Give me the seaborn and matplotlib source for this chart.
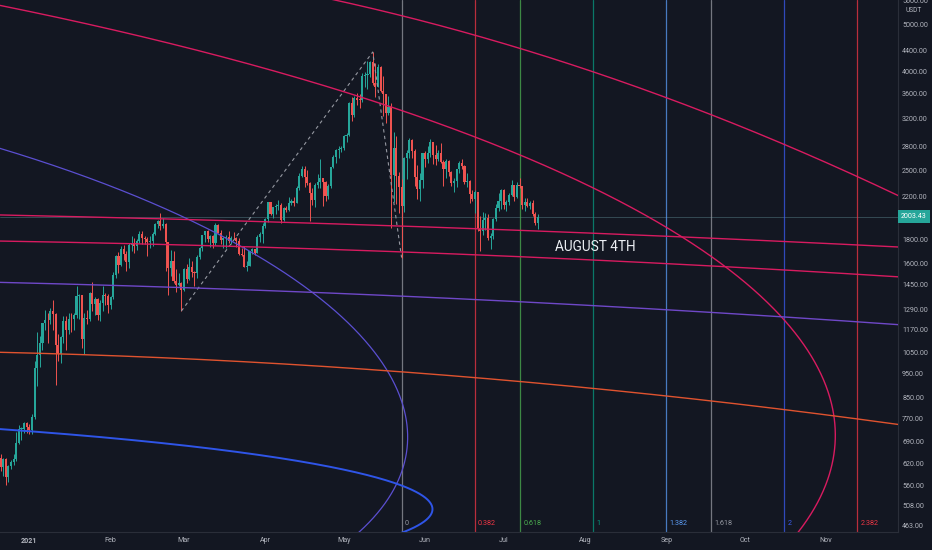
import numpy as np
import matplotlib
matplotlib.use("Agg")
import matplotlib.pyplot as plt
import matplotlib.transforms as mtransforms
from matplotlib.ticker import NullLocator
import seaborn as sns

# ETH/USDT daily candles; days are counted from 2021-01-01
FIRST_DAY = -11          # 2020-12-21
FIRST_OPEN = 638.0

CLOSE = [
    # Dec 21-31
    609, 635, 583, 612, 626, 635, 684, 731, 731, 751, 737,
    # Jan
    729, 774, 978, 1041, 1100, 1208, 1225, 1224, 1281, 1262,
    1090, 1043, 1130, 1218, 1171, 1233, 1230, 1257, 1377, 1382,
    1121, 1236, 1230, 1391, 1324, 1357, 1253, 1332, 1383, 1377, 1314,
    # Feb
    1369, 1515, 1660, 1593, 1721, 1678, 1614, 1750, 1768, 1744,
    1783, 1843, 1813, 1800, 1779, 1781, 1848, 1937, 1960, 1920,
    1935, 1777, 1571, 1626, 1475, 1446, 1460, 1417,
    # Mar
    1565, 1492, 1576, 1540, 1530, 1654, 1723, 1834, 1868, 1800,
    1827, 1770, 1924, 1854, 1792, 1806, 1823, 1782, 1810, 1806,
    1781, 1680, 1669, 1581, 1587, 1701, 1714, 1687, 1817, 1846, 1918,
    # Apr
    1977, 2143, 2027, 2093, 2107, 2117, 1971, 2088, 2072, 2136,
    2157, 2139, 2299, 2432, 2514, 2422, 2354, 2237, 2166, 2330,
    2364, 2403, 2363, 2212, 2316, 2534, 2662, 2747, 2756, 2772,
    # May
    2945, 2950, 3431, 3240, 3522, 3492, 3484, 3902, 3928, 3952,
    4168, 3785, 3715, 4079, 3641, 3587, 3282, 3379, 2438, 2771,
    2431, 2302, 2106, 2643, 2706, 2888, 2737, 2419, 2280, 2386, 2706,
    # Jun
    2634, 2707, 2855, 2689, 2630, 2711, 2594, 2517, 2610, 2472,
    2353, 2372, 2509, 2581, 2552, 2364, 2374, 2231, 2175, 2248,
    1889, 1875, 1969, 1989, 1808, 1829, 1982, 2085, 2160, 2275,
    # Jul 1-14
    2113, 2149, 2224, 2325, 2197, 2323, 2317, 2117, 2146, 2111,
    2140, 2032, 1940, 2003.43,
]

HIGH = [
    650, 637, 637, 616, 630, 648, 719, 746, 738, 754, 755,
    749, 786, 1011, 1158, 1135, 1210, 1283, 1266, 1300, 1348,
    1265, 1150, 1135, 1249, 1247, 1270, 1265, 1265, 1440, 1387,
    1384, 1267, 1285, 1400, 1470, 1370, 1362, 1348, 1440, 1396, 1385,
    1375, 1543, 1670, 1695, 1745, 1750, 1700, 1770, 1825, 1810,
    1805, 1872, 1870, 1825, 1815, 1825, 1860, 1940, 1975, 2042,
    1990, 1940, 1780, 1710, 1700, 1565, 1530, 1470,
    1570, 1600, 1650, 1625, 1545, 1670, 1735, 1840, 1875, 1878,
    1840, 1840, 1945, 1935, 1880, 1815, 1832, 1870, 1830, 1860,
    1815, 1812, 1725, 1740, 1625, 1702, 1730, 1720, 1836, 1860, 1946,
    1990, 2145, 2150, 2100, 2125, 2170, 2140, 2100, 2110, 2200,
    2180, 2200, 2318, 2470, 2545, 2550, 2497, 2360, 2290, 2345,
    2450, 2640, 2410, 2370, 2340, 2540, 2680, 2758, 2798, 2797,
    2950, 2985, 3460, 3530, 3545, 3610, 3580, 3970, 3980, 4200,
    4200, 4372, 4150, 4130, 4100, 3900, 3585, 3560, 3435, 2990,
    2940, 2480, 2400, 2660, 2750, 2910, 2895, 2760, 2560, 2470, 2710,
    2740, 2800, 2890, 2860, 2815, 2745, 2845, 2620, 2630, 2620,
    2490, 2410, 2515, 2605, 2635, 2560, 2465, 2380, 2275, 2275,
    2250, 2010, 2050, 2040, 2030, 1850, 1995, 2130, 2240, 2280,
    2280, 2170, 2240, 2385, 2315, 2360, 2410, 2320, 2190, 2190,
    2160, 2170, 2045, 2030,
]

LOW = [
    600, 586, 560, 568, 605, 616, 628, 680, 693, 718, 716,
    714, 715, 765, 896, 983, 1064, 1170, 1100, 1202, 1170,
    900, 1010, 1002, 1100, 1062, 1150, 1160, 1170, 1236, 1235,
    1075, 1046, 1202, 1220, 1280, 1255, 1225, 1218, 1280, 1320, 1270,
    1290, 1354, 1500, 1535, 1585, 1630, 1550, 1570, 1700, 1685,
    1710, 1770, 1760, 1760, 1660, 1730, 1740, 1840, 1895, 1880,
    1900, 1550, 1380, 1511, 1465, 1400, 1440, 1280,
    1410, 1460, 1480, 1505, 1440, 1500, 1637, 1700, 1780, 1775,
    1735, 1730, 1750, 1850, 1760, 1730, 1730, 1765, 1760, 1800,
    1735, 1666, 1658, 1575, 1545, 1586, 1680, 1670, 1686, 1780, 1770,
    1900, 1950, 2015, 1990, 2030, 2070, 1940, 1965, 2050, 2060,
    2120, 2110, 2135, 2270, 2420, 2305, 2330, 1960, 2120, 2100,
    2290, 2295, 2110, 2160, 2175, 2300, 2520, 2580, 2650, 2720,
    2750, 2860, 2940, 3160, 3210, 3400, 3350, 3460, 3700, 3670,
    3880, 3740, 3530, 3700, 3620, 3230, 3120, 3240, 1900, 2150,
    2130, 2040, 1650, 2050, 2400, 2650, 2650, 2320, 2180, 2160, 2300,
    2540, 2580, 2660, 2570, 2560, 2615, 2580, 2320, 2410, 2430,
    2320, 2250, 2310, 2460, 2515, 2340, 2310, 2140, 2155, 2040,
    1870, 1700, 1840, 1880, 1790, 1720, 1800, 1960, 2060, 2080,
    2080, 2060, 2120, 2210, 2155, 2190, 2300, 2080, 2060, 2095,
    2080, 2010, 1925, 1890,
]

MONTH_DAYS = [0, 31, 59, 90, 120, 151, 181, 212, 243, 273, 304]
MONTH_LABELS = ["2021", "Feb", "Mar", "Apr", "May", "Jun", "Jul", "Aug", "Sep", "Oct", "Nov"]
PRICE_TICKS = [463, 508, 560, 620, 690, 770, 850, 950, 1050, 1170, 1290, 1450,
               1600, 1800, 2200, 2500, 2800, 3200, 3600, 4000, 4400, 5000, 5600]

# trend-based fib time: start, end, and the point the zones start from
TREND_DAYS = [58, 131, 142]
TREND_PRICES = [1280, 4378, 1650]
FIB_LEVELS = [0, 0.382, 0.618, 1, 1.382, 1.618, 2, 2.382]
FIB_COLORS = ["#9598a1", "#f23645", "#4caf50", "#089981", "#5b9cf6", "#9598a1", "#3a5bf0", "#f23645"]

# hand drawn arcs and slanted lines, anchors as (day, price)
ARC_PINK = [(-11.2, 5472), (84.2, 4115), (141.4, 3324), (198.7, 2523), (217.8, 2252),
            (259.7, 1686), (287.6, 1244), (299.0, 981), (307.8, 727), (305.5, 582), (292.9, 448)]
ARC_PURPLE = [(-11.2, 2775), (43.4, 2168), (95.7, 1555), (125.0, 1169), (136.5, 967),
              (143.4, 727), (141.5, 573), (133.8, 497), (125.4, 448)]
ARC_BLUE = [(-11.2, 734), (42.3, 684), (95.7, 640), (138.8, 568), (153.7, 497),
            (150.2, 470), (143.3, 448)]
CURVE_PINK_TOP = [(117.3, 5604), (141.4, 5218), (175.0, 4634), (198.7, 4255),
                  (294.1, 2749), (317.0, 2418), (332.2, 2189)]
LINE_PINK_A = [(-11.2, 2019), (95.7, 1953), (198.7, 1862), (217.8, 1853), (332.2, 1734)]
LINE_PINK_B = [(-11.2, 1785), (95.7, 1726), (198.7, 1646), (217.8, 1630), (332.2, 1504)]
LINE_PURPLE = [(-11.2, 1469), (95.7, 1400), (217.8, 1317), (332.2, 1197)]
LINE_ORANGE = [(-11.2, 1053), (95.7, 995), (164.3, 935), (217.8, 888), (332.2, 745)]

NOTE_TEXT = "AUGUST 4TH"

BG = "#131722"
TEXT = "#b2b5be"
UP = "#26a69a"
DOWN = "#ef5350"
PINK = "#d81b60"

X0, X1 = -11.2, 331.4
Y0, Y1 = 448.2, 5604.0
W_PX, H_PX = 898, 532
PX_DAY = W_PX / (X1 - X0)
PX_LOG = H_PX / np.log(Y1 / Y0)


def conic_fit(uu, ww, tilt=True, iters=20):
    # algebraic conic fit, re-weighted by the gradient so it tracks the points geometrically
    one = np.ones_like(uu)
    if tilt:
        M = np.column_stack([uu * uu, uu * ww, ww * ww, uu, ww, one])
    else:
        M = np.column_stack([uu * uu, ww * ww, uu, ww, one])
    wts = np.ones(len(uu))
    for _ in range(iters):
        c = np.linalg.svd(M * wts[:, None])[2][-1]
        if tilt:
            A, B, C, D, E, F = c
        else:
            A, C, D, E, F = c
            B = 0.0
        gu = 2 * A * uu + B * ww + D
        gw = B * uu + 2 * C * ww + E
        wts = 1.0 / np.maximum(np.hypot(gu, gw), 1e-9)
    return A, B, C, D, E, F


def ellipse_arc(anchors, tilt=True, n=800, ext=0.08):
    d = np.array([a[0] for a in anchors], float)
    v = np.log(np.array([a[1] for a in anchors], float))
    u = d * PX_DAY / 100.0
    w = v * PX_LOG / 100.0
    um, wm = u.mean(), w.mean()
    uu, ww = u - um, w - wm
    A, B, C, D, E, F = conic_fit(uu, ww, tilt)
    cu, cw = np.linalg.solve([[2 * A, B], [B, 2 * C]], [-D, -E])
    F0 = F + (D * cu + E * cw) / 2
    evals, evecs = np.linalg.eigh([[A, B / 2], [B / 2, C]])
    radii = np.sqrt(-F0 / evals)
    q = evecs.T @ np.vstack([uu - cu, ww - cw])
    t = np.unwrap(np.arctan2(q[1] / radii[1], q[0] / radii[0]))
    span = t[-1] - t[0]
    tt = np.linspace(t[0] - ext * span, t[-1] + ext * span, n)
    pts = evecs @ np.vstack([radii[0] * np.cos(tt), radii[1] * np.sin(tt)])
    return (pts[0] + cu + um) * 100 / PX_DAY, np.exp((pts[1] + cw + wm) * 100 / PX_LOG)


def quad_curve(anchors, n=400):
    d = np.array([a[0] for a in anchors], float)
    v = np.log(np.array([a[1] for a in anchors], float))
    coef = np.polyfit(d, v, 2)
    dd = np.linspace(d.min() - 15, X1 + 10, n)
    return dd, np.exp(np.polyval(coef, dd))


sns.set_style("dark", rc={"axes.facecolor": BG, "figure.facecolor": BG})
plt.rcParams["font.family"] = ["Liberation Sans Narrow", "Roboto", "DejaVu Sans"]

fig = plt.figure(figsize=(9.32, 5.5), dpi=100)
ax = fig.add_axes([0, 1 - H_PX / 550, W_PX / 932, H_PX / 550])
ax.set_facecolor(BG)
ax.set_yscale("log")

# candles
close = np.array(CLOSE, float)
opn = np.concatenate([[FIRST_OPEN], close[:-1]])
high = np.maximum(np.array(HIGH, float), np.maximum(opn, close))
low = np.minimum(np.array(LOW, float), np.minimum(opn, close))
days = FIRST_DAY + np.arange(len(close))
colors = np.where(close >= opn, UP, DOWN)
bottom = np.minimum(opn, close)
height = np.maximum(np.abs(close - opn), bottom * 0.003)
ax.vlines(days, low, high, colors=colors, linewidth=0.7, zorder=3)
ax.bar(days, height, bottom=bottom, width=0.8, color=colors, linewidth=0, zorder=3)

# current price line
ax.axhline(close[-1], color="#4a6b74", linewidth=0.6, alpha=0.7, zorder=2)

# fib time zones
unit = TREND_DAYS[1] - TREND_DAYS[0]
for lvl, col in zip(FIB_LEVELS, FIB_COLORS):
    xd = TREND_DAYS[2] + lvl * unit
    ax.axvline(xd, color=col, linewidth=0.9, alpha=0.75, zorder=2)
    ax.annotate(f"{lvl:g}", xy=(xd, 0), xycoords=("data", "axes fraction"),
                xytext=(2.5, 3.5), textcoords="offset points", color=col,
                fontsize=5.2, ha="left", va="bottom")

# the three-point trend path
sns.lineplot(x=TREND_DAYS, y=TREND_PRICES, sort=False, estimator=None, ax=ax,
             color="#9598a1", linewidth=0.8, linestyle=(0, (3, 3)), zorder=4)

# arcs and slanted lines
for anchors, col, lw, tilt in [(ARC_PINK, PINK, 1.0, True), (ARC_PURPLE, "#5b4fd1", 0.9, True),
                               (ARC_BLUE, "#2f55e8", 1.4, False)]:
    xd, yp = ellipse_arc(anchors, tilt=tilt)
    ax.plot(xd, yp, color=col, linewidth=lw, zorder=4)
for anchors, col in [(CURVE_PINK_TOP, PINK), (LINE_PINK_A, PINK), (LINE_PINK_B, PINK),
                     (LINE_PURPLE, "#6f48c8"), (LINE_ORANGE, "#e0532f")]:
    xd, yp = quad_curve(anchors)
    ax.plot(xd, yp, color=col, linewidth=1.0, zorder=4)

ax.text(200.6, 1734, NOTE_TEXT, color="#eceff4", fontsize=9.8, ha="left", va="center",
        zorder=6)

ax.set_xlim(X0, X1)
ax.set_ylim(Y0, Y1)

ax.set_xticks(MONTH_DAYS)
ax.set_xticklabels(MONTH_LABELS)
ax.get_xticklabels()[0].set_fontweight("bold")
ax.yaxis.tick_right()
ax.yaxis.set_minor_locator(NullLocator())
ax.set_yticks(PRICE_TICKS)
ax.set_yticklabels([f"{v:.2f}" for v in PRICE_TICKS])
ax.tick_params(axis="x", length=0, pad=3.6, labelsize=5.1, colors=TEXT)
ax.tick_params(axis="y", length=0, pad=3.0, labelsize=5.1, colors=TEXT)
ax.grid(False)
for side in ["top", "left"]:
    ax.spines[side].set_visible(False)
for side in ["bottom", "right"]:
    ax.spines[side].set_color("#2a2e39")
    ax.spines[side].set_linewidth(0.8)

# last price tag on the price scale
trans = mtransforms.blended_transform_factory(ax.transAxes, ax.transData)
ax.text(1.0035, close[-1], f"{close[-1]:.2f}", transform=trans, color="white",
        fontsize=5.1, ha="left", va="center", zorder=7, clip_on=False,
        bbox=dict(boxstyle="square,pad=0.45", facecolor=UP, edgecolor="none"))
fig.text(914 / 932, 1 - 11 / 550, "USDT", color=TEXT, fontsize=4.8, ha="center", va="center")

fig.savefig("out.png", dpi=100, facecolor=BG)
